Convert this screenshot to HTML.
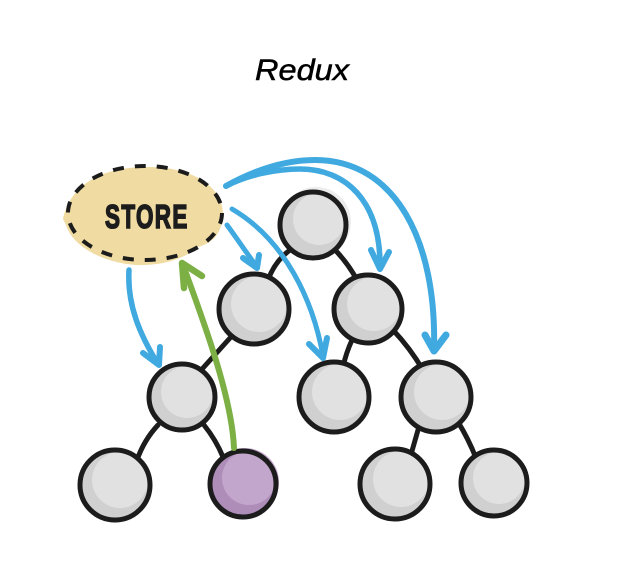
<!DOCTYPE html>
<html>
<head>
<meta charset="utf-8">
<style>
html,body{margin:0;padding:0;background:#fff;width:633px;height:582px;overflow:hidden}
svg{display:block}
.c{fill:none;stroke:#1c1c1c;stroke-width:5;stroke-linecap:round}
.n{stroke:#1c1c1c;stroke-width:5}
.b{fill:none;stroke:#3fa9e0;stroke-linecap:round;stroke-linejoin:round}
.g{fill:none;stroke:#7cb045;stroke-linecap:round;stroke-linejoin:round}
.h{fill:#ececec}
.s{fill:#d0d0d0}
.l{fill:#e1e1e1}
</style>
</head>
<body>
<svg width="633" height="582" viewBox="0 0 633 582" xmlns="http://www.w3.org/2000/svg">
<text x="255" y="80" font-family="'Liberation Sans',sans-serif" font-style="italic" font-size="30" fill="#000" stroke="#000" stroke-width="0.5" textLength="94" lengthAdjust="spacingAndGlyphs">Redux</text>

<!-- connectors -->
<path class="c" d="M290,250 Q275,261 268,280"/>
<path class="c" d="M337,252 Q349,265 357,280"/>
<path class="c" d="M230,338 L203,368"/>
<path class="c" d="M352,340 Q346,353 343,367"/>
<path class="c" d="M393,330 Q410,348 423,370"/>
<path class="c" d="M158,425 Q144,440 137,460"/>
<path class="c" d="M204,425 Q216,440 223,457"/>
<path class="c" d="M418,430 L410,458"/>
<path class="c" d="M458,422 Q468,438 476,458"/>

<!-- nodes -->
<g>
<circle class="h" cx="316" cy="222" r="35"/><circle class="s" cx="313" cy="225" r="33"/><circle class="l" cx="319" cy="219" r="26"/><circle cx="313" cy="225" r="33" fill="none" class="n"/>
<circle class="s" cx="254" cy="309" r="35"/><circle class="l" cx="259" cy="304" r="28"/><circle cx="254" cy="309" r="35" fill="none" class="n"/>
<circle class="s" cx="368" cy="309" r="34"/><circle class="l" cx="374" cy="304" r="27"/><circle cx="368" cy="309" r="34" fill="none" class="n"/>
<circle class="s" cx="182" cy="397" r="33"/><circle class="l" cx="187" cy="392" r="26"/><circle cx="182" cy="397" r="33" fill="none" class="n"/>
<circle class="s" cx="334" cy="397" r="35"/><circle class="l" cx="340" cy="392" r="28"/><circle cx="334" cy="397" r="35" fill="none" class="n"/>
<circle class="s" cx="436" cy="397" r="35"/><circle class="l" cx="442" cy="392" r="28"/><circle cx="436" cy="397" r="35" fill="none" class="n"/>
<circle class="s" cx="115" cy="485" r="35"/><circle class="l" cx="120" cy="480" r="28"/><circle cx="115" cy="485" r="35" fill="none" class="n"/>
<circle cx="245" cy="482" r="34" fill="#c3a6cc"/><circle cx="243" cy="484" r="33" fill="#ae8db9"/><circle cx="249" cy="478" r="27" fill="#c3a6cc"/><circle cx="243" cy="484" r="33" fill="none" class="n"/>
<circle class="s" cx="395" cy="484" r="35"/><circle class="l" cx="401" cy="479" r="28"/><circle cx="395" cy="484" r="35" fill="none" class="n"/>
<circle class="s" cx="494" cy="483" r="33"/><circle class="l" cx="499" cy="478" r="26"/><circle cx="494" cy="483" r="33" fill="none" class="n"/>
</g>

<!-- store -->
<path d="M63,219 C68,195 88,168 145,167 C190,166 222,185 223,213 C222,235 212,243 198,247 C185,258 165,266 135,265 C100,262 72,245 66,225 Z" fill="#f0dca2"/>
<ellipse cx="145" cy="213" rx="77" ry="47" fill="none" stroke="#1c1c1c" stroke-width="4" stroke-dasharray="11 11"/>
<text transform="translate(105,228) scale(0.68,1)" font-family="'Liberation Sans',sans-serif" font-weight="bold" font-size="33" letter-spacing="2" fill="#1c1c1c" stroke="#1c1c1c" stroke-width="1.6">STORE</text>

<!-- blue arrows -->
<path class="b" stroke-width="5.5" d="M226,186 C248,175 275,169 300,169 C345,169 381,200 380,268"/>
<path class="b" stroke-width="6" d="M371,250 L380,269 L389,252"/>
<path class="b" stroke-width="6" d="M226,186 C255,170 285,160 315,160 C395,160 437,240 434,350"/>
<path class="b" stroke-width="7" d="M425,335 L434,351 L446,335"/>
<path class="b" stroke-width="5" d="M232,209 C285,240 313,300 323,356"/>
<path class="b" stroke-width="6" d="M309,344 L323,358 L327,338"/>
<path class="b" stroke-width="5" d="M227,225 C238,240 248,255 257,267"/>
<path class="b" stroke-width="6" d="M243,258 L257,268 L259,255"/>
<path class="b" stroke-width="5.5" d="M129,270 C127,305 140,335 158,364"/>
<path class="b" stroke-width="6" d="M143,353 L159,365 L160,347"/>

<!-- green arrow -->
<path class="g" stroke-width="6" d="M234,448 C232,400 207,330 183,265"/>
<path class="g" stroke-width="6.5" d="M184,288 L182,263 L202,276"/>
</svg>
</body>
</html>
